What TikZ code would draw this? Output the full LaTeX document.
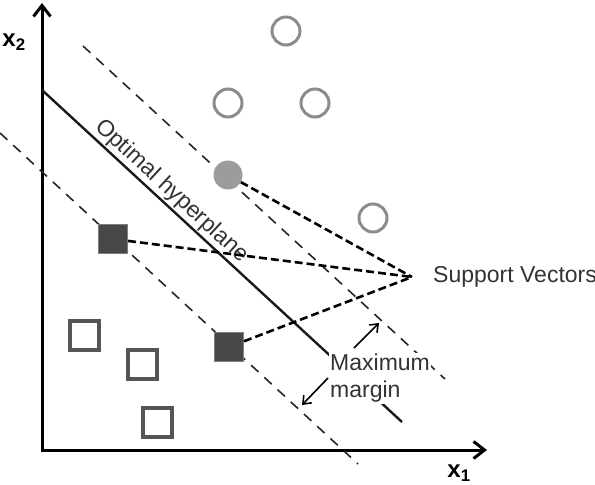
\documentclass[tikz,border=0pt]{standalone}
\usepackage{fontspec}
\setmainfont{Liberation Sans}
\usetikzlibrary{arrows.meta}
\definecolor{ptgray}{HTML}{8C8C8C}
\definecolor{svgray}{HTML}{9C9C9C}
\definecolor{sqdark}{HTML}{484848}
\definecolor{sqline}{HTML}{555555}
\definecolor{txtgray}{HTML}{333333}

\begin{document}
\begin{tikzpicture}[x=1pt, y=-1pt,
  axis/.style={line width=3pt, {Straight Barb[length=11pt,width=17pt]}-{Straight Barb[length=11pt,width=17pt]}},
  classA/.style={circle, draw=ptgray, line width=3pt, minimum size=28pt, inner sep=0pt},
  svA/.style={circle, fill=svgray, minimum size=29pt, inner sep=0pt},
  classB/.style={rectangle, draw=sqline, line width=4pt, minimum size=29pt, inner sep=0pt},
  svB/.style={rectangle, fill=sqdark, draw=sqdark!70, line width=1pt, minimum size=29pt, inner sep=0pt},
  hyper/.style={line width=2.4pt, black!90},
  margin/.style={line width=1.6pt, black!85, dash pattern=on 10pt off 8pt},
  svlink/.style={line width=2.6pt, dash pattern=on 8pt off 4pt},
  gaparrow/.style={line width=1.6pt, -{Straight Barb[length=7pt,width=11pt]}},
  lbl/.style={text=txtgray, font=\fontsize{23}{27}\selectfont},
  axlbl/.style={font=\fontsize{24}{28}\selectfont\bfseries}]
\useasboundingbox (0,0) rectangle (595,485);

% axes
\coordinate (o) at (42,450);
\coordinate (ytip) at (42,3);
\coordinate (xtip) at (487,450);
\draw[axis] (ytip) -- (o) -- (xtip);
\node[axlbl] (x2lbl) at (14,42) {x\textsubscript{2}};
\node[axlbl] (x1lbl) at (459,473) {x\textsubscript{1}};

% margins and hyperplane
\coordinate (u1) at (83,46);
\coordinate (u2) at (445,379);
\coordinate (l1) at (0,133);
\coordinate (l2) at (358,464);
\coordinate (h1) at (42,90);
\coordinate (h2) at (402,422);
\draw[margin] (u1) -- (u2);
\draw[margin] (l1) -- (l2);
\draw[hyper] (h1) -- node[lbl, sloped, above, pos=0.335, inner sep=1.5pt] (hyptxt) {Optimal hyperplane} (h2);

% class points
\foreach \px/\py [count=\i] in {286/31, 228/103, 315/103, 373/218}
  \node[classA] (a\i) at (\px,\py) {};
\foreach \px/\py [count=\i] in {84/335, 142/364, 157/422}
  \node[classB] (b\i) at (\px,\py) {};

% support vectors
\node[svA] (sva) at (228,175) {};
\node[svB] (svb1) at (113,239) {};
\node[svB] (svb2) at (229,347) {};
\coordinate (hub) at (412,277);
\draw[svlink] (sva) -- (hub);
\draw[svlink] (svb1) -- (hub);
\draw[svlink] (svb2) -- (hub);
\node[lbl, anchor=west, inner sep=0pt] (svtxt) at (433,277) {Support Vectors};

% margin label
\node[lbl, fill=white, align=left, inner sep=1pt, anchor=north west] (mm) at (329,353) {Maximum\\margin};
\coordinate (mup1) at (354,348);
\coordinate (mup2) at (379,323);
\coordinate (mdn1) at (328,378);
\coordinate (mdn2) at (302,405);
\draw[gaparrow] (mup1) -- (mup2);
\draw[gaparrow] (mdn1) -- (mdn2);
\end{tikzpicture}
\end{document}
